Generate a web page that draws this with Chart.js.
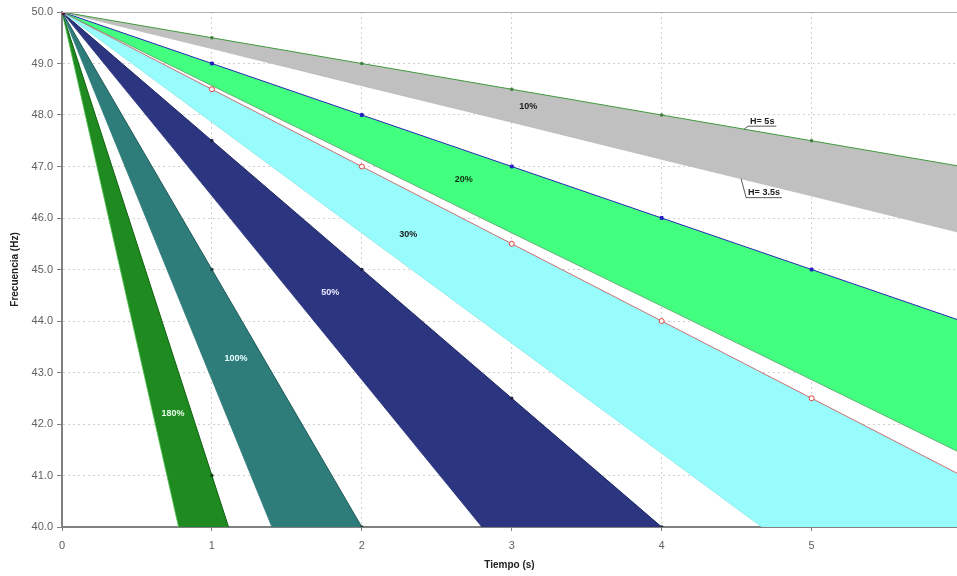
<!DOCTYPE html>
<html><head><meta charset="utf-8">
<script src="https://cdn.jsdelivr.net/npm/chart.js@4/dist/chart.umd.min.js"></script>
<style>html,body{margin:0;padding:0;background:#fff;overflow:hidden;width:957px;height:576px}</style>
</head><body>
<canvas id="c" width="962" height="576"></canvas>
<script>
// Tiempo (s)
const tiempo = [0, 1, 2, 3, 4, 5, 6];
// Frecuencia (Hz) for each load step, upper edge H = 5 s, lower edge H = 3.5 s
const f10_H5   = [50, 49.5, 49.0, 48.5, 48.0, 47.5, 47.0];
const f10_H35  = [50, 49.29, 48.57, 47.86, 47.14, 46.43, 45.71];
const f20_H5   = [50, 49.0, 48.0, 47.0, 46.0, 45.0, 44.0];
const f20_H35  = [50, 48.57, 47.14, 45.71, 44.29, 42.86, 41.43];
const f30_H5   = [50, 48.5, 47.0, 45.5, 44.0, 42.5, 41.0];
const f30_H35  = [50, 47.86, 45.71, 43.57, 41.43, 39.29, 37.14];
const f50_H5   = [50, 47.5, 45.0, 42.5, 40.0, 37.5, 35.0];
const f50_H35  = [50, 46.43, 42.86, 39.29, 35.71, 32.14, 28.57];
const f100_H5  = [50, 45.0, 40.0, 35.0, 30.0, 25.0, 20.0];
const f100_H35 = [50, 42.86, 35.71, 28.57, 21.43, 14.29, 7.14];
const f180_H5  = [50, 41.0, 32.0, 23.0, 14.0, 5.0, -4.0];
const f180_H35 = [50, 37.14, 24.29, 11.43, -1.43, -14.29, -27.14];
const bandNames = ['10%', '20%', '30%', '50%', '100%', '180%'];
const edgeNames = ['H= 5s', 'H= 3.5s'];
const yTickValues = [40, 41, 42, 43, 44, 45, 46, 47, 48, 49, 50];

const pts = arr => arr.map((v, i) => ({x: tiempo[i], y: v}));

const bands = [
  {up: f10_H5,  lo: f10_H35,  fill: '#c0c0c0', upLine: '#3f9a3f', loLine: '#b8b8b8', mk: '#3f7f3f', mr: 1.5, ms: 'rect', mf: '#3f7f3f'},
  {up: f20_H5,  lo: f20_H35,  fill: '#42ff80', upLine: '#2828b0', loLine: '#5a9f6a', mk: '#2020c0', mr: 2, ms: 'rect', mf: '#2020c0'},
  {up: f30_H5,  lo: f30_H35,  fill: '#99fcfc', upLine: '#c87070', loLine: '#88e8e8', mk: '#e04040', mr: 2.5, ms: 'circle', mf: '#ffffff'},
  {up: f50_H5,  lo: f50_H35,  fill: '#2c3580', upLine: '#1c2560', loLine: '#2c3580', mk: '#202040', mr: 1.5, ms: 'rect', mf: '#202040'},
  {up: f100_H5, lo: f100_H35, fill: '#2f7d7b', upLine: '#205a58', loLine: '#2f7d7b', mk: '#204040', mr: 1.5, ms: 'rect', mf: '#204040'},
  {up: f180_H5, lo: f180_H35, fill: '#1f8a1f', upLine: '#106010', loLine: '#50c050', mk: '#104010', mr: 1.5, ms: 'rect', mf: '#104010'}
];

const datasets = [];
bands.forEach((b, k) => {
  datasets.push({
    label: bandNames[k] + ' ' + edgeNames[0],
    data: pts(b.up),
    borderColor: b.upLine, borderWidth: 1,
    fill: false,
    pointRadius: b.up.map((v, i) => i === 0 ? (k === 0 ? 3.5 : 0) : b.mr),
    pointStyle: b.ms,
    pointBorderColor: b.up.map((v, i) => i === 0 ? '#601030' : b.mk),
    pointBackgroundColor: b.up.map((v, i) => i === 0 ? '#601030' : b.mf),
    pointBorderWidth: 1
  });
  datasets.push({
    label: bandNames[k] + ' ' + edgeNames[1],
    data: pts(b.lo),
    borderColor: b.loLine, borderWidth: 0.8,
    backgroundColor: b.fill,
    fill: '-1',
    pointRadius: 0
  });
});

const labelSpots = [
  {t: 3.11, f: 48.16, c: '#202020'},
  {t: 2.68, f: 46.74, c: '#103010'},
  {t: 2.31, f: 45.68, c: '#202020'},
  {t: 1.79, f: 44.55, c: '#e8e8ff'},
  {t: 1.16, f: 43.28, c: '#e8ffff'},
  {t: 0.74, f: 42.2,  c: '#e8ffe8'}
];

const annot = {
  id: 'annot',
  afterDatasetsDraw(chart) {
    const {ctx, scales: {x, y}, chartArea} = chart;
    ctx.save();
    ctx.strokeStyle = '#b0b0b0';
    ctx.lineWidth = 1;
    ctx.beginPath();
    ctx.moveTo(chartArea.left, Math.round(chartArea.top) + 0.5);
    ctx.lineTo(chartArea.right, Math.round(chartArea.top) + 0.5);
    ctx.stroke();

    ctx.font = 'bold 9px "Liberation Sans", Arial, sans-serif';
    ctx.textAlign = 'center';
    ctx.textBaseline = 'middle';
    labelSpots.forEach((s, k) => {
      ctx.fillStyle = s.c;
      ctx.fillText(bandNames[k], x.getPixelForValue(s.t), y.getPixelForValue(s.f));
    });

    const drawH = (text, tAnchor, arr, dx, dy) => {
      const i0 = Math.floor(tAnchor), fr = tAnchor - i0;
      const fv = arr[i0] + (arr[i0 + 1] - arr[i0]) * fr;
      const px = x.getPixelForValue(tAnchor), py = y.getPixelForValue(fv);
      ctx.font = 'bold 9px "Liberation Sans", Arial, sans-serif';
      const w = ctx.measureText(text).width;
      const ex = px + dx, ey = py + dy;
      ctx.strokeStyle = '#303030';
      ctx.lineWidth = 0.8;
      ctx.beginPath();
      ctx.moveTo(px, py);
      ctx.lineTo(ex, ey);
      ctx.lineTo(ex + w + 4, ey);
      ctx.stroke();
      ctx.fillStyle = '#202020';
      ctx.textAlign = 'left';
      ctx.textBaseline = 'bottom';
      ctx.fillText(text, ex + 2, ey - 0.5);
    };
    drawH(edgeNames[0], 4.55, f10_H5, 4, -3);
    drawH(edgeNames[1], 4.53, f10_H35, 5, 19);
    ctx.restore();
  }
};

new Chart(document.getElementById('c'), {
  type: 'line',
  data: {datasets},
  options: {
    responsive: false,
    animation: false,
    layout: {padding: {top: 12, right: 0, left: 0, bottom: 0}},
    plugins: {legend: {display: false}, tooltip: {enabled: false}},
    elements: {line: {tension: 0}},
    scales: {
      x: {
        type: 'linear', min: 0, max: 5.97,
        afterFit: s => { s.height = 49; s.paddingRight = 0; s.paddingLeft = 0; },
        ticks: {stepSize: 1, includeBounds: false, color: '#606060', padding: 8,
                font: {family: '"Liberation Sans", Arial, sans-serif', size: 11},
                callback: v => String(v)},
        grid: {color: '#d0d0d0', tickColor: '#808080', tickLength: 4, lineWidth: 1},
        border: {color: '#808080', width: 2, dash: [2, 3]},
        title: {display: true, text: 'Tiempo (s)', color: '#222',
                font: {family: '"Liberation Sans", Arial, sans-serif', size: 10, weight: 'bold'},
                padding: {top: 0, bottom: 5}}
      },
      y: {
        type: 'linear', min: 40, max: 50,
        afterFit: s => { s.width = 62; },
        afterBuildTicks: s => { s.ticks = yTickValues.map(v => ({value: v})); },
        ticks: {color: '#606060', padding: 4,
                font: {family: '"Liberation Sans", Arial, sans-serif', size: 11},
                callback: v => Number(v).toFixed(1)},
        grid: {color: '#d0d0d0', tickColor: '#808080', tickLength: 5, lineWidth: 1},
        border: {color: '#808080', width: 2, dash: [2, 3]},
        title: {display: true, text: 'Frecuencia (Hz)', color: '#222',
                font: {family: '"Liberation Sans", Arial, sans-serif', size: 10, weight: 'bold'},
                padding: {top: 9, bottom: 0}}
      }
    }
  },
  plugins: [annot]
});
</script>
</body></html>
